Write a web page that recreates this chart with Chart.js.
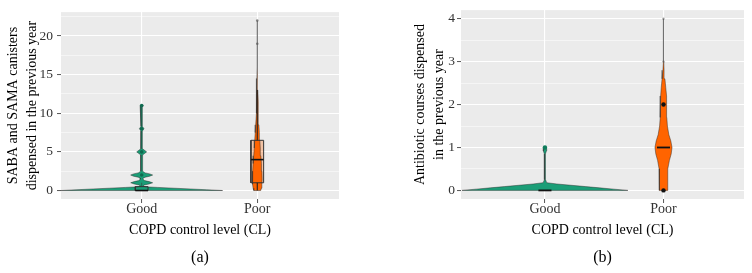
<!DOCTYPE html>
<html><head><meta charset="utf-8">
<script src="https://cdn.jsdelivr.net/npm/chart.js@4/dist/chart.umd.min.js"></script>
<style>
html,body{margin:0;padding:0;background:#fff;}
#wrap{position:relative;width:752px;height:273px;overflow:hidden;}
canvas{position:absolute;top:0;}
#ca{left:0;} #cb{left:376px;}
</style></head><body>
<div id="wrap"><canvas id="ca" width="376" height="273"></canvas><canvas id="cb" width="376" height="273"></canvas></div>
<script>
// ---------- shared ----------
const categories = ['Good', 'Poor'];
const xTitle = 'COPD control level (CL)';

// ---------- panel (a): SABA and SAMA canisters ----------
const aCaption = '(a)';
const aYTitle = ['SABA and SAMA canisters', 'dispensed in the previous year'];
const aYMajor = [0, 5, 10, 15, 20];
const aYMinor = [2.5, 7.5, 12.5, 17.5, 22.5];
const aGoodLevels = [0, 0.1, 0.2, 0.3, 0.4, 0.48, 0.6, 0.72, 0.85, 1.0, 1.15, 1.28, 1.45, 1.6, 1.72, 1.85, 2.0, 2.15, 2.28, 2.5, 4.6, 4.8, 5.0, 5.2, 5.4, 7.7, 8.0, 8.3, 10.8, 11.0];
const aGoodWidths = [0.70, 0.56, 0.42, 0.28, 0.14, 0.03, 0.012, 0.025, 0.065, 0.095, 0.065, 0.025, 0.012, 0.012, 0.03, 0.07, 0.095, 0.07, 0.03, 0.008, 0.008, 0.025, 0.043, 0.025, 0.007, 0.006, 0.02, 0.006, 0.006, 0.014];
const aPoorLevels = [0, 0.3, 0.8, 1.5, 2.5, 3.5, 4.5, 5.5, 6.5, 7.5, 8.5, 10, 11.5, 13, 14.5, 16, 18, 20, 22];
const aPoorWidths = [0.03, 0.036, 0.04, 0.042, 0.04, 0.036, 0.031, 0.026, 0.022, 0.018, 0.014, 0.01, 0.007, 0.005, 0.003, 0.002, 0.0015, 0.0012, 0.0008];
const aQ1 = [0, 1];
const aMedian = [0, 4];
const aQ3 = [0.5, 6.5];
const aWhiskLow = [0, 0];
const aWhiskHigh = [1, 13];
const aGoodOutliers = [2, 5, 8, 11];
const aPoorOutliers = [19, 22];

// ---------- panel (b): antibiotic courses ----------
const bCaption = '(b)';
const bYTitle = ['Antibiotic courses dispensed', 'in the previous year'];
const bYMajor = [0, 1, 2, 3, 4];
const bYMinor = [0.5, 1.5, 2.5, 3.5];
const bGoodLevels = [0, 0.03, 0.06, 0.09, 0.12, 0.15, 0.18, 0.25, 0.5, 0.85, 0.92, 0.97, 1.0];
const bGoodWidths = [0.70, 0.58, 0.46, 0.34, 0.22, 0.10, 0.015, 0.005, 0.004, 0.005, 0.012, 0.015, 0.008];
const bPoorLevels = [0, 0.3, 0.5, 0.7, 0.85, 1.0, 1.15, 1.3, 1.5, 1.7, 2.0, 2.2, 2.4, 2.6, 2.8, 3.0, 3.5, 4.0];
const bPoorWidths = [0.035, 0.035, 0.037, 0.05, 0.065, 0.072, 0.062, 0.045, 0.033, 0.028, 0.028, 0.024, 0.019, 0.012, 0.005, 0.003, 0.002, 0.001];
const bQ1 = [0, 1];
const bMedian = [0, 1];
const bQ3 = [0, 1];
const bGoodOutliers = [1];
const bPoorOutliersDark = [0, 2];
const bPoorOutliersLight = [3, 4];

// ---------- styling ----------
const SERIF = "'Liberation Serif', 'DejaVu Serif', serif";
const GREEN = '#1b9e77';
const ORANGE = '#ff6400';
const BOX_HW = 0.055;

function violinPoints(c, levels, widths) {
  const right = levels.map((y, i) => ({x: c + widths[i], y}));
  const left = levels.map((y, i) => ({x: c - widths[i], y})).reverse();
  return right.concat(left, [right[0]]);
}
function violinDs(c, levels, widths, color, order) {
  return {data: violinPoints(c, levels, widths), backgroundColor: color, borderColor: 'rgba(35,35,35,0.55)',
    borderWidth: 0.8, fill: 'shape', pointRadius: 0, tension: 0, order};
}
function boxDs(c, q1, q3, fillColor, order) {
  return {data: [{x: c - BOX_HW, y: q1}, {x: c + BOX_HW, y: q1}, {x: c + BOX_HW, y: q3}, {x: c - BOX_HW, y: q3}, {x: c - BOX_HW, y: q1}],
    backgroundColor: fillColor, borderColor: 'rgba(0,0,0,0)', borderWidth: 0, fill: 'shape', pointRadius: 0, order};
}
function boxLineDs(c, q1, q3, order) {
  return {data: [{x: c - BOX_HW, y: q1}, {x: c + BOX_HW, y: q1}, {x: c + BOX_HW, y: q3}, {x: c - BOX_HW, y: q3}, {x: c - BOX_HW, y: q1}],
    borderColor: '#333', borderWidth: 1, fill: false, pointRadius: 0, order};
}
function segDs(x1, y1, x2, y2, color, width, order) {
  return {data: [{x: x1, y: y1}, {x: x2, y: y2}], borderColor: color, borderWidth: width, fill: false, pointRadius: 0, order};
}
function pointsDs(c, values, color, radius, order) {
  return {data: values.map(v => ({x: c, y: v})), showLine: false, pointRadius: radius, pointBackgroundColor: color,
    pointBorderWidth: 0, order};
}

const panelBg = {id: 'panelBg', beforeDraw(chart) {
  const {ctx, chartArea: a} = chart;
  ctx.save(); ctx.fillStyle = '#ebebeb';
  ctx.fillRect(a.left, a.top, a.right - a.left, a.bottom - a.top);
  ctx.restore();
}};

function makeOptions(p) {
  const isMajor = v => p.major.some(m => Math.abs(m - v) < 1e-9);
  return {
    responsive: false, animation: false, events: [],
    layout: {padding: {left: 0, right: p.padR, top: p.padT, bottom: 5.4}},
    plugins: {
      legend: {display: false}, tooltip: {enabled: false},
      title: {display: true, text: p.caption, position: 'bottom', fullSize: false,
        font: {family: SERIF, size: 16, weight: 'normal'}, color: '#000', padding: 0}
    },
    scales: {
      x: {type: 'linear', min: p.xMin, max: p.xMax, bounds: 'data',
        afterFit(s) { s.height = 49.4; },
        afterBuildTicks(s) { s.ticks = categories.map((c, i) => ({value: i + 1})); },
        ticks: {callback: v => categories[v - 1] ?? '', font: {family: SERIF, size: 14}, color: '#333',
          padding: -2, maxRotation: 0, autoSkip: false},
        grid: {color: '#fff', lineWidth: 1.1, tickLength: 4, tickColor: '#555', tickWidth: 1},
        border: {display: false},
        title: {display: true, text: xTitle, font: {family: SERIF, size: 14}, color: '#000', padding: {top: 0, bottom: 10}}
      },
      y: {type: 'linear', min: p.yMin, max: p.yMax, bounds: 'data',
        afterFit(s) { s.width = p.yW; },
        afterBuildTicks(s) { s.ticks = p.major.concat(p.minor).sort((a, b) => a - b).map(v => ({value: v})); },
        ticks: {callback: v => isMajor(v) ? String(v) : '', font: {family: SERIF, size: 13.5}, color: '#333',
          padding: p.tickPad, autoSkip: false},
        grid: {color: '#fff', lineWidth: c => isMajor(c.tick.value) ? 1.1 : 0.5, tickLength: 4,
          tickColor: c => isMajor(c.tick.value) ? '#555' : 'rgba(0,0,0,0)', tickWidth: 1},
        border: {display: false},
        title: {display: true, text: p.yTitle, font: {family: SERIF, size: 14, lineHeight: 1.35}, color: '#000',
          padding: {top: p.titlePad, bottom: 0}}
      }
    }
  };
}

// ---------- chart (a) ----------
new Chart(document.getElementById('ca'), {
  type: 'line',
  data: {datasets: [
    pointsDs(1, aGoodOutliers, '#0f6b50', 1.8, 0),
    pointsDs(2, aPoorOutliers, 'rgba(90,90,90,0.7)', 1.3, 0),
    segDs(1 - BOX_HW, aMedian[0], 1 + BOX_HW, aMedian[0], '#111', 1.6, 1),
    segDs(2 - BOX_HW, aMedian[1], 2 + BOX_HW, aMedian[1], '#111', 1.6, 1),
    segDs(1, aQ3[0], 1, aWhiskHigh[0], 'rgba(60,60,60,0.6)', 1, 2),
    segDs(2, aQ3[1], 2, aWhiskHigh[1], '#222', 1.1, 2),
    segDs(2, aQ1[1], 2, aWhiskLow[1], '#222', 1.1, 2),
    boxLineDs(1, aQ1[0], aQ3[0], 3),
    boxLineDs(2, aQ1[1], aQ3[1], 3),
    violinDs(1, aGoodLevels, aGoodWidths, GREEN, 4),
    violinDs(2, aPoorLevels, aPoorWidths, ORANGE, 4),
    boxDs(1, aQ1[0], aQ3[0], 'rgba(27,158,119,0.6)', 5),
    boxDs(2, aQ1[1], aQ3[1], 'rgba(255,100,0,0.3)', 5)
  ]},
  options: makeOptions({caption: aCaption, yTitle: aYTitle, major: aYMajor, minor: aYMinor,
    xMin: 0.302, xMax: 2.707, yMin: -1.1, yMax: 23.1, padR: 37, padT: 8, yW: 61, tickPad: 4, titlePad: 3.5}),
  plugins: [panelBg]
});

// ---------- chart (b) ----------
new Chart(document.getElementById('cb'), {
  type: 'line',
  data: {datasets: [
    pointsDs(1, bGoodOutliers, '#0f7d5c', 2.2, 0),
    pointsDs(2, bPoorOutliersDark, '#111', 2.2, 0),
    pointsDs(2, bPoorOutliersLight, 'rgba(90,90,90,0.5)', 1.2, 0),
    segDs(1 - BOX_HW, bMedian[0], 1 + BOX_HW, bMedian[0], '#111', 1.8, 1),
    segDs(2 - BOX_HW, bMedian[1], 2 + BOX_HW, bMedian[1], '#111', 1.8, 1),
    violinDs(1, bGoodLevels, bGoodWidths, GREEN, 4),
    violinDs(2, bPoorLevels, bPoorWidths, ORANGE, 4)
  ]},
  options: makeOptions({caption: bCaption, yTitle: bYTitle, major: bYMajor, minor: bYMinor,
    xMin: 0.292, xMax: 2.679, yMin: -0.2, yMax: 4.2, padR: 8, padT: 6, yW: 85, tickPad: 2, titlePad: 34.85}),
  plugins: [panelBg]
});
</script>
</body></html>
